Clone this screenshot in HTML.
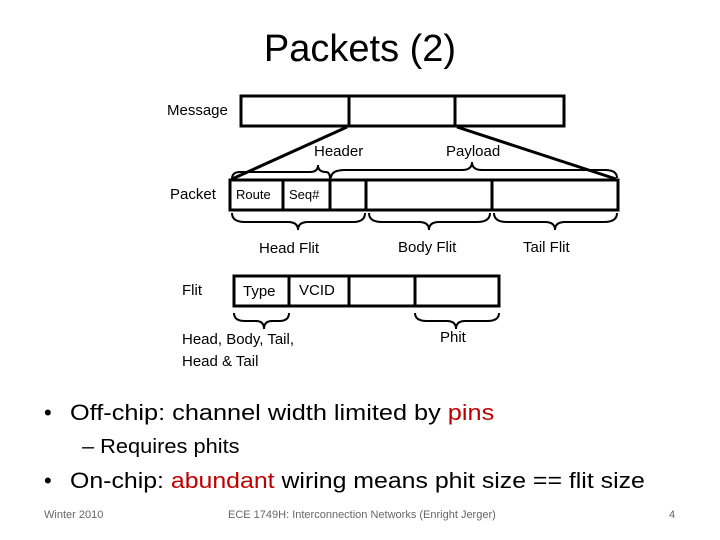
<!DOCTYPE html>
<html><head><style>
body{margin:0;width:720px;height:540px;background:#fff;position:relative;font-family:"Liberation Sans",sans-serif;overflow:hidden}
.t{position:absolute;white-space:nowrap;color:#000}
.s{transform-origin:0 0}
</style></head><body>
<div class="t" style="left:0;width:720px;text-align:center;top:28px;font-size:38px">Packets (2)</div>
<svg width="720" height="540" style="position:absolute;left:0;top:0" fill="none" stroke="#000">
<g stroke-width="3">
<rect x="241" y="96" width="323" height="30"/>
<line x1="349" y1="96" x2="349" y2="126"/><line x1="455" y1="96" x2="455" y2="126"/>
<rect x="230" y="180" width="388" height="30"/>
<line x1="283" y1="180" x2="283" y2="210"/><line x1="330" y1="180" x2="330" y2="210"/>
<line x1="366" y1="180" x2="366" y2="210"/><line x1="492" y1="180" x2="492" y2="210"/>
<line x1="347" y1="127" x2="232" y2="179"/><line x1="457" y1="127" x2="616" y2="179"/>
<rect x="234" y="276" width="265" height="30"/>
<line x1="289" y1="276" x2="289" y2="306"/><line x1="349" y1="276" x2="349" y2="306"/><line x1="415" y1="276" x2="415" y2="306"/>
</g>
<g stroke-width="2">
<path d="M232 179 Q232 172 240 172 L310 172 Q318 172 318 165 Q318 172 326 172 Q330 172 330 179"/>
<path d="M331 178 Q331 170 345 170 L462 170 Q472 170 472 162 Q472 170 482 170 L605 170 Q617 170 617 178"/>
<path d="M232 213 Q232 222 245 222 L288 222 Q298 222 298 230 Q298 222 308 222 L353 222 Q365 222 365 213"/>
<path d="M369 213 Q369 222 382 222 L419 222 Q429 222 429 230 Q429 222 439 222 L477 222 Q490 222 490 213"/>
<path d="M494 213 Q494 222 507 222 L545 222 Q555 222 555 230 Q555 222 565 222 L604 222 Q617 222 617 213"/>
<path d="M234 313 Q234 321 245 321 L256 321 Q264 321 264 329 Q264 321 272 321 L279 321 Q289 321 289 313"/>
<path d="M415 313 Q415 321 427 321 L447 321 Q456 321 456 329 Q456 321 465 321 L487 321 Q499 321 499 313"/>
</g>
</svg>
<div class="t" style="left:167px;top:102px;font-size:15px">Message</div>
<div class="t" style="left:314px;top:143px;font-size:15px">Header</div>
<div class="t" style="left:446px;top:143px;font-size:15px">Payload</div>
<div class="t" style="left:170px;top:186px;font-size:15px">Packet</div>
<div class="t" style="left:236px;top:187px;font-size:13px">Route</div>
<div class="t" style="left:289px;top:187px;font-size:13px">Seq#</div>
<div class="t" style="left:259px;top:240px;font-size:15px">Head Flit</div>
<div class="t" style="left:398px;top:239px;font-size:15px">Body Flit</div>
<div class="t" style="left:523px;top:239px;font-size:15px">Tail Flit</div>
<div class="t" style="left:182px;top:282px;font-size:15px">Flit</div>
<div class="t" style="left:243px;top:283px;font-size:15px">Type</div>
<div class="t" style="left:299px;top:282px;font-size:15px">VCID</div>
<div class="t" style="left:182px;top:329px;font-size:15px;line-height:22px">Head, Body, Tail,<br>Head &amp; Tail</div>
<div class="t" style="left:440px;top:329px;font-size:15px">Phit</div>
<div class="t" style="left:44px;top:400px;font-size:22px">•</div>
<div class="t s" style="left:70px;top:400px;font-size:22px;transform:scaleX(1.15)">Off-chip: channel width limited by <span style="color:#c00000">pins</span></div>
<div class="t s" style="left:82px;top:436px;font-size:20px;transform:scaleX(1.09)">– Requires phits</div>
<div class="t" style="left:44px;top:468px;font-size:22px">•</div>
<div class="t s" style="left:70px;top:468px;font-size:22px;transform:scaleX(1.13)">On-chip: <span style="color:#c00000">abundant</span> wiring means phit size == flit size</div>
<div class="t" style="left:44px;top:509px;font-size:11px;color:#666">Winter 2010</div>
<div class="t" style="left:228px;top:509px;font-size:11px;color:#666">ECE 1749H: Interconnection Networks (Enright Jerger)</div>
<div class="t" style="left:669px;top:509px;font-size:11px;color:#666">4</div>
</body></html>
